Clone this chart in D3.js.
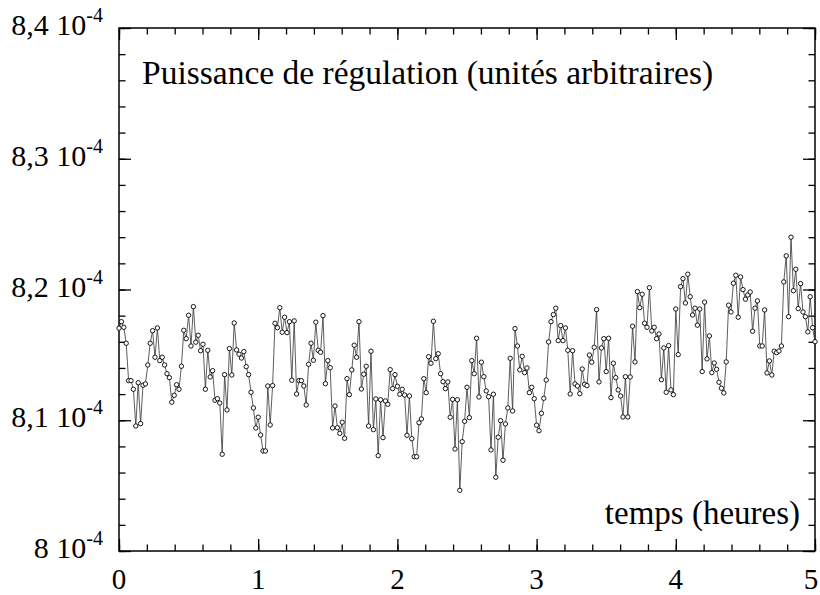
<!DOCTYPE html>
<html><head><meta charset="utf-8">
<script src="https://cdn.jsdelivr.net/npm/d3@7"></script>
<style>body{margin:0;background:#fff}svg{display:block}</style>
</head><body><svg id="c" width="820" height="595"></svg>
<script>
// Regulation power, units of 1e-4, sampled regularly from 0 to 5 h
const power = [
8.1704,8.1754,8.1711,8.1589,8.1303,8.1303,8.1237,8.0956,8.1287,8.0974,8.1268,8.1278,8.1423,8.1589,8.1685,8.1482,8.1706,8.1456,8.1482,8.1423,8.1356,8.1326,8.1138,8.1191,8.1272,8.1237,8.1413,8.1688,8.1624,8.1803,
8.1568,8.1869,8.1597,8.1650,8.1532,8.1581,8.1237,8.1535,8.1331,8.1379,8.1153,8.1165,8.1132,8.0740,8.1349,8.1079,8.1548,8.1346,8.1744,8.1538,8.1505,8.1476,8.1525,8.1410,8.1349,8.1214,8.1094,8.0941,8.1023,8.0887,8.0765,
8.0765,8.1262,8.0964,8.1265,8.1742,8.1708,8.1861,8.1673,8.1788,8.1670,8.1754,8.1306,8.1760,8.1201,8.1303,8.1303,8.1262,8.1117,8.1428,8.1589,8.1459,8.1750,8.1535,8.1520,8.1800,8.1280,8.1456,8.1402,8.0941,8.1109,
8.0943,8.0900,8.0985,8.0862,8.1318,8.1196,8.1385,8.1574,8.1482,8.1754,8.1239,8.1352,8.1413,8.0956,8.1528,8.0928,8.1163,8.0729,8.1157,8.0867,8.1148,8.1122,8.1387,8.1242,8.1349,8.1260,8.1199,8.1237,8.1193,8.0885,8.1186,
8.0859,8.0721,8.0721,8.0981,8.1010,8.1318,8.1211,8.1486,8.1436,8.1757,8.1471,8.1509,8.1356,8.1295,8.1242,8.1293,8.1023,8.1160,8.0780,8.1157,8.0464,8.0836,8.0992,8.1252,8.1020,8.1456,8.1356,8.1627,8.1178,8.1444,
8.1333,8.1224,8.1180,8.0773,8.1199,8.0564,8.0870,8.0997,8.0694,8.0972,8.1094,8.1474,8.1071,8.1701,8.1568,8.1385,8.1489,8.1364,8.1400,8.1211,8.1252,8.1165,8.0962,8.0920,8.1053,8.1168,8.1308,8.1599,8.1754,8.1808,8.1857,
8.1609,8.1724,8.1609,8.1706,8.1535,8.1201,8.1532,8.1278,8.1262,8.1203,8.1392,8.1275,8.1265,8.1499,8.1444,8.1558,8.1846,8.1293,8.1553,8.1624,8.1372,8.1627,8.1173,8.1436,8.1326,8.1232,8.1186,8.1025,8.1333,8.1025,
8.1331,8.1719,8.1446,8.1984,8.1861,8.1964,8.1742,8.1711,8.2014,8.1683,8.1711,8.1624,8.1660,8.1310,8.1553,8.1214,8.1571,8.1232,8.1196,8.1851,8.1502,8.2022,8.2083,8.1897,8.2117,8.1945,8.1805,8.1857,8.1727,8.1851,
8.1372,8.1903,8.1469,8.1645,8.1364,8.1438,8.1390,8.1291,8.1245,8.1209,8.1446,8.1880,8.1828,8.2048,8.2109,8.1788,8.2096,8.1999,8.1926,8.1958,8.1981,8.1681,8.1857,8.1913,8.1568,8.1568,8.1844,8.1362,8.1454,8.1346,8.1528,
8.1517,8.1530,8.1568,8.2058,8.2257,8.1792,8.2400,8.1991,8.2155,8.1854,8.2045,8.1828,8.1792,8.1676,8.1945,8.1708,8.1601
];
const tStart = 0, tEnd = 5; // hours
const xTicks = [0, 1, 2, 3, 4, 5];
const yTicks = [8.0, 8.1, 8.2, 8.3, 8.4];
const yTickLabels = ["8", "8,1", "8,2", "8,3", "8,4"];
const titleText = "Puissance de régulation (unités arbitraires)";
const xLabelText = "temps (heures)";

const svg = d3.select("#c");
const m = {l: 119, t: 28, r: 820 - 815, b: 595 - 551};
const W = 820 - m.l - m.r, H = 595 - m.t - m.b;
const n = power.length;
const data = power.map((v, i) => ({t: tStart + (tEnd - tStart) * i / (n - 1), v}));

const x = d3.scaleLinear().domain([0, 5]).range([m.l, m.l + W]);
const y = d3.scaleLinear().domain([8.0, 8.4]).range([m.t + H, m.t]);
const font = "'Liberation Serif','Times New Roman',serif";

const minorX = d3.range(0, 5.0001, 0.2);
const minorY = d3.range(8.0, 8.4001, 0.02);

function axisG(axis, tx, ty) {
  const g = svg.append("g").attr("transform", `translate(${tx},${ty})`).call(axis);
  g.select(".domain").remove();
  g.selectAll("text").remove();
  g.selectAll("line").attr("stroke", "#000").attr("stroke-width", 1.3);
  return g;
}
// major and minor ticks, inward, all four sides
axisG(d3.axisBottom(x).tickValues(xTicks).tickSize(-12), 0, m.t + H);
axisG(d3.axisBottom(x).tickValues(minorX).tickSize(-6.5), 0, m.t + H);
axisG(d3.axisTop(x).tickValues(xTicks).tickSize(-12), 0, m.t);
axisG(d3.axisTop(x).tickValues(minorX).tickSize(-6.5), 0, m.t);
axisG(d3.axisLeft(y).tickValues(yTicks).tickSize(-12), m.l, 0);
axisG(d3.axisLeft(y).tickValues(minorY).tickSize(-6.5), m.l, 0);
axisG(d3.axisRight(y).tickValues(yTicks).tickSize(-12), m.l + W, 0);
axisG(d3.axisRight(y).tickValues(minorY).tickSize(-6.5), m.l + W, 0);

svg.append("rect").attr("x", m.l).attr("y", m.t).attr("width", W).attr("height", H)
  .attr("fill", "none").attr("stroke", "#000").attr("stroke-width", 1.5);

// x tick labels (last one kept inside the page edge)
svg.append("g").selectAll("text").data(xTicks).join("text")
  .attr("x", d => Math.min(x(d), 811)).attr("y", 589)
  .attr("text-anchor", "middle").attr("font-family", font).attr("font-size", 29)
  .text(d => d);

// y tick labels
const yl = svg.append("g").selectAll("text").data(yTicks).join("text")
  .attr("x", 103).attr("y", d => y(d) + 7)
  .attr("text-anchor", "end").attr("font-family", font).attr("font-size", 30);
yl.append("tspan").text((d, i) => yTickLabels[i] + " 10");
yl.append("tspan").attr("dy", -13).attr("font-size", 20).text("-4");

// line and markers
svg.append("path").datum(data)
  .attr("d", d3.line().x(d => x(d.t)).y(d => y(d.v)))
  .attr("fill", "none").attr("stroke", "#333").attr("stroke-width", 0.8);
svg.append("g").selectAll("circle").data(data).join("circle")
  .attr("cx", d => x(d.t)).attr("cy", d => y(d.v)).attr("r", 2.2)
  .attr("fill", "#fff").attr("stroke", "#000").attr("stroke-width", 0.9);

svg.append("text").attr("x", 142).attr("y", 84).attr("font-family", font).attr("font-size", 33.5)
  .text(titleText);
svg.append("text").attr("x", 800).attr("y", 524).attr("text-anchor", "end")
  .attr("font-family", font).attr("font-size", 33).text(xLabelText);
</script></body></html>
